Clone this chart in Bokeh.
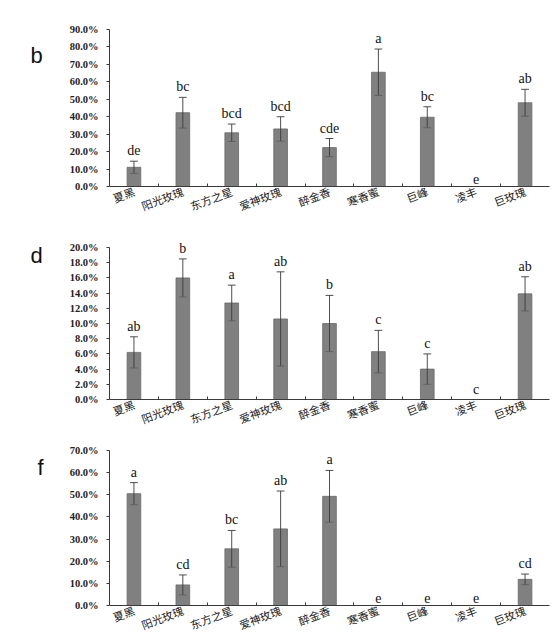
from bokeh.plotting import figure, ColumnDataSource
from bokeh.models import (Range1d, FixedTicker, SingleIntervalTicker,
                          PrintfTickFormatter, LabelSet)
from bokeh.core.properties import value
from bokeh.layouts import column, row
from bokeh.embed import file_html
from bokeh.resources import INLINE

categories = ["夏黑", "阳光玫瑰", "东方之星", "爱神玫瑰", "醉金香",
              "寒香蜜", "巨峰", "凌丰", "巨玫瑰"]

# panel b
b_mean = [11.0, 42.3, 30.8, 33.0, 22.3, 65.5, 39.7, 0.0, 48.0]
b_sd = [3.5, 8.8, 5.0, 7.0, 5.2, 13.3, 6.0, 0.0, 7.7]
b_letters = ["de", "bc", "bcd", "bcd", "cde", "a", "bc", "e", "ab"]

# panel d
d_mean = [6.2, 16.0, 12.7, 10.6, 10.0, 6.3, 4.0, 0.0, 13.9]
d_sd = [2.05, 2.5, 2.35, 6.2, 3.7, 2.8, 2.0, 0.0, 2.25]
d_letters = ["ab", "b", "a", "ab", "b", "c", "c", "c", "ab"]

# panel f
f_mean = [50.5, 9.3, 25.6, 34.6, 49.3, 0.0, 0.0, 0.0, 11.8]
f_sd = [5.0, 4.5, 8.3, 17.1, 11.7, 0.0, 0.0, 0.0, 2.4]
f_letters = ["a", "cd", "bc", "ab", "a", "e", "e", "e", "cd"]

BAR = "#808080"
INK = "#3a3a3a"
TAG_W = 60


def build_tag(tag, height, tx, ty):
    # small blank figure carrying the panel letter
    t = figure(width=TAG_W, height=height, x_range=Range1d(0, TAG_W),
               y_range=Range1d(height, 0), output_backend="svg",
               toolbar_location=None, min_border=0)
    t.axis.visible = False
    t.grid.visible = False
    t.outline_line_color = None
    t.text(x=[tx], y=[ty], text=[tag], text_align="center",
           text_baseline="alphabetic", text_font=value("Liberation Sans"),
           text_font_size="22px", text_color="#111111")
    return t


def build_panel(mean, sd, letters, ymax, yview, step, height, top, bottom):
    n = len(categories)
    centers = [i + 0.5 for i in range(n)]

    p = figure(width=552 - TAG_W, height=height, x_range=Range1d(0, n),
               y_range=Range1d(0, yview), output_backend="svg",
               toolbar_location=None, min_border_left=109 - TAG_W,
               min_border_right=3, min_border_top=top,
               min_border_bottom=bottom)
    p.outline_line_color = None
    p.xgrid.visible = False
    p.ygrid.visible = False

    p.vbar(x=centers, top=mean, width=0.28, fill_color=BAR,
           line_color="#6a6a6a", line_width=0.8)

    # error bars (only for non-zero ones)
    ex, lo, hi = [], [], []
    for c, m, s in zip(centers, mean, sd):
        if s > 0:
            ex.append(c)
            lo.append(m - s)
            hi.append(m + s)
    err = ColumnDataSource(data=dict(x=ex, lo=lo, hi=hi,
                                     x0=[v - 0.08 for v in ex],
                                     x1=[v + 0.08 for v in ex]))
    p.segment(x0="x", y0="lo", x1="x", y1="hi", source=err,
              line_color=INK, line_width=0.9)
    p.segment(x0="x0", y0="hi", x1="x1", y1="hi", source=err,
              line_color=INK, line_width=0.9)
    p.segment(x0="x0", y0="lo", x1="x1", y1="lo", source=err,
              line_color="#5a5a5a", line_width=0.8)

    lab = ColumnDataSource(data=dict(
        x=centers, y=[m + s for m, s in zip(mean, sd)], t=letters))
    p.add_layout(LabelSet(x="x", y="y", text="t", source=lab,
                          text_align="center", text_baseline="bottom",
                          y_offset=3, text_font="Liberation Serif",
                          text_font_size="14px", text_color="#111111"))

    xa = p.xaxis[0]
    xa.ticker = FixedTicker(ticks=centers, minor_ticks=list(range(1, n)))
    xa.major_label_overrides = {c: name for c, name in zip(centers, categories)}
    xa.major_label_orientation = 0.36
    xa.major_label_text_font = "Noto Sans CJK SC"
    xa.major_label_text_font_size = "11px"
    xa.major_label_text_color = "#1a1a1a"
    xa.major_label_standoff = 4
    xa.major_tick_in = 0
    xa.major_tick_out = 0
    xa.minor_tick_in = 3
    xa.minor_tick_out = 0
    xa.minor_tick_line_color = INK
    xa.axis_line_color = INK

    ya = p.yaxis[0]
    ya.bounds = (0, ymax)
    ya.ticker = SingleIntervalTicker(interval=step, num_minor_ticks=0)
    ya.formatter = PrintfTickFormatter(format="%.1f%%")
    ya.major_label_text_font = "Liberation Serif"
    ya.major_label_text_font_style = "bold"
    ya.major_label_text_font_size = "10.5px"
    ya.major_label_text_color = "#222222"
    ya.major_label_standoff = 8
    ya.major_tick_in = 0
    ya.major_tick_out = 3
    ya.major_tick_line_color = INK
    ya.minor_tick_line_color = None
    ya.axis_line_color = INK
    return p


pb = build_panel(b_mean, b_sd, b_letters, 90, 90, 10, 226, 29, 40)
pd_ = build_panel(d_mean, d_sd, d_letters, 20, 21.45, 2, 213, 10, 40)
pf = build_panel(f_mean, f_sd, f_letters, 70, 70, 10, 203, 11, 37)

layout = column(
    row(build_tag("b", 226, 36, 38), pb, spacing=0),
    row(build_tag("d", 213, 36, 25), pd_, spacing=0),
    row(build_tag("f", 203, 40, 22), pf, spacing=0),
    spacing=0)
open("out.html", "w").write(file_html(layout, INLINE))
